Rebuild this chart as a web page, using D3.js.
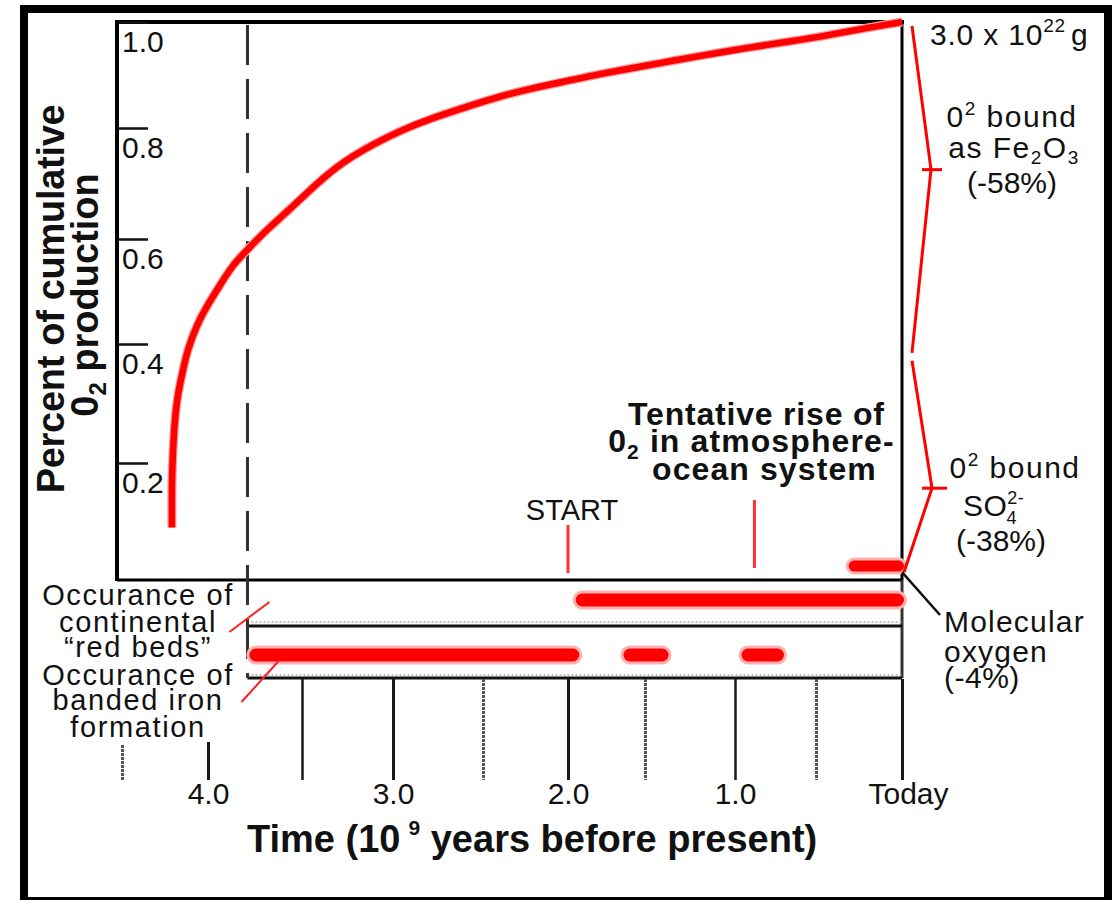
<!DOCTYPE html>
<html><head><meta charset="utf-8">
<script src="https://cdn.jsdelivr.net/npm/d3@7"></script>
<style>
html,body{margin:0;padding:0;background:#fff;}
svg{display:block;font-family:"Liberation Sans",Arial,Helvetica,sans-serif;}
</style></head><body>
<svg id="chart" width="1115" height="902"></svg>
<script>
// ---------------- data ----------------
const timeTicks = [4.5, 4.0, 3.5, 3.0, 2.5, 2.0, 1.5, 1.0, 0.5, 0.0];
const timeTickLabels = ["", "4.0", "", "3.0", "", "2.0", "", "1.0", "", "Today"];
const fracTicks = [0.2, 0.4, 0.6, 0.8, 1.0];
const fracTickLabels = ["0.2", "0.4", "0.6", "0.8", "1.0"];

// cumulative O2 production curve (time in 10^9 yr before present, fraction)
const curveTime = [4.21, 4.21, 4.21, 4.20, 4.18, 4.15, 4.12, 4.06, 4.01, 3.94, 3.87, 3.79, 3.69, 3.56, 3.40, 3.24, 2.96, 2.78, 2.59, 2.40, 2.21, 2.00, 1.79, 1.58, 1.38, 1.19, 1.01, 0.80, 0.60, 0.40, 0.20, 0.00];
const curveFrac = [0.085, 0.13, 0.17, 0.25, 0.31, 0.35, 0.39, 0.44, 0.47, 0.51, 0.55, 0.58, 0.616, 0.655, 0.706, 0.748, 0.796, 0.819, 0.840, 0.860, 0.875, 0.889, 0.902, 0.913, 0.925, 0.936, 0.947, 0.957, 0.966, 0.977, 0.989, 1.0];

// occurrence bands
const bandNames = ["red beds", "banded iron"];
const redBedsSpans = [[1.95, 0.0]];
const bifSpans = [[3.78, 1.94], [1.64, 1.38], [0.96, 0.71]];
const molecularOxygenSpan = [0.31, 0.0];
const molecularOxygenFrac = 0.016;

// events
const oldestRockAge = 3.79;
const startAge = 2.0;
const tentativeRiseAge = 0.88;

// partition braces (fraction values: top, apex, bottom)
const upperBrace = [1.0, 0.725, 0.385];
const lowerBrace = [0.372, 0.155, 0.005];

// ---------------- chart ----------------
const W = 1115, H = 902;
const svg = d3.select("#chart");
svg.append("rect").attr("width", W).attr("height", H).attr("fill", "#fff");

const x = d3.scaleLinear().domain(timeTicks).range([122, 208, 302, 393, 483, 568, 645, 735, 816, 902]);
const y = d3.scaleLinear().domain([0, 0.2, 0.4, 0.6, 0.8, 1.0]).range([575, 463, 344, 239, 128, 22]);
const band = d3.scalePoint().domain(bandNames).range([600, 655]);

const boxL = 117, boxT = y(1), boxR = x(0), boxB = 580;
const bandTop = 626, bandBot = 678;

// outer frame
const frame = svg.append("g").attr("fill", "#000");
frame.append("rect").attr("x", 20).attr("y", 5).attr("width", 1092).attr("height", 8);
frame.append("rect").attr("x", 20).attr("y", 5).attr("width", 8).attr("height", 895);
frame.append("rect").attr("x", 1104).attr("y", 5).attr("width", 8).attr("height", 895);
frame.append("rect").attr("x", 20).attr("y", 897).attr("width", 1092).attr("height", 3);

// main box
const g = svg.append("g");
g.append("line").attr("x1", boxL).attr("x2", boxL).attr("y1", boxT - 2).attr("y2", boxB + 1).attr("stroke", "#000").attr("stroke-width", 4);
g.append("line").attr("x1", boxL - 2).attr("x2", boxR + 2).attr("y1", boxT).attr("y2", boxT).attr("stroke", "#000").attr("stroke-width", 4);
g.append("line").attr("x1", boxL).attr("x2", boxR).attr("y1", boxB).attr("y2", boxB).attr("stroke", "#000").attr("stroke-width", 3);
g.append("line").attr("x1", boxR).attr("x2", boxR).attr("y1", boxT).attr("y2", boxB).attr("stroke", "#000").attr("stroke-width", 3);
g.append("line").attr("x1", boxR).attr("x2", boxR).attr("y1", boxB).attr("y2", bandBot).attr("stroke", "#333").attr("stroke-width", 3);

// band lines
const xBandL = x(oldestRockAge);
[[622, bandTop], [675, bandBot]].forEach(([dy, sy]) => {
  g.append("line").attr("x1", xBandL).attr("x2", boxR).attr("y1", dy).attr("y2", dy)
    .attr("stroke", "#b0b0b0").attr("stroke-width", 1.5).attr("stroke-dasharray", "2,2");
  g.append("line").attr("x1", xBandL).attr("x2", boxR).attr("y1", sy).attr("y2", sy)
    .attr("stroke", "#111").attr("stroke-width", 3);
});

// dashed line at oldest rocks
g.append("line").attr("x1", xBandL).attr("x2", xBandL).attr("y1", boxT + 3).attr("y2", bandBot)
  .attr("stroke", "#333").attr("stroke-width", 3).attr("stroke-dasharray", "40,14");

// y axis
const yAxis = d3.axisRight(y).tickValues(fracTicks).tickSize(30).tickFormat((d, i) => fracTickLabels[i]);
const gy = svg.append("g").attr("transform", `translate(${boxL + 1},0)`).call(yAxis);
gy.select(".domain").remove();
gy.selectAll(".tick line").attr("stroke", "#111").attr("stroke-width", 2.5);
gy.selectAll(".tick text").attr("x", 4).attr("y", 29).attr("dy", 0).attr("text-anchor", "start")
  .attr("font-size", 30).attr("font-family", "Liberation Sans, Arial, sans-serif").attr("fill", "#111");

// x axis
const isHalf = d => Math.round(d * 2) % 2 === 1 && d !== 3.5;
const xAxis = d3.axisBottom(x).tickValues(timeTicks).tickSize(101).tickPadding(3).tickFormat((d, i) => timeTickLabels[i]);
const gx = svg.append("g").attr("transform", `translate(0,${bandBot + 1})`).call(xAxis);
gx.select(".domain").remove();
gx.selectAll(".tick line")
  .attr("y1", d => d === 4.5 ? 66 : (d === 4.0 ? 63 : 0))
  .attr("stroke", d => isHalf(d) ? "#555" : "#1a1a1a")
  .attr("stroke-width", d => d === 3.5 || d === 1.0 ? 2.5 : 3)
  .attr("stroke-dasharray", d => isHalf(d) ? "3,1" : null);
gx.selectAll(".tick text").attr("font-size", 30).attr("font-family", "Liberation Sans, Arial, sans-serif")
  .attr("fill", "#111").attr("dx", d => d === 0 ? 6 : 0);

// curve
const pts = curveTime.map((t, i) => [t, curveFrac[i]]);
const line = d3.line().x(d => x(d[0])).y(d => y(d[1])).curve(d3.curveBasis);
svg.append("path").attr("d", line(pts)).attr("fill", "none").attr("stroke", "#ff9a9a").attr("stroke-width", 9);
svg.append("path").attr("d", line(pts)).attr("fill", "none").attr("stroke", "#ff0000").attr("stroke-width", 6.5);

// occurrence bars
function bar(t0, t1, yy, w) {
  const r = w / 2;
  const xa = x(t0) + r, xb = x(t1) - r + 2;
  svg.append("line").attr("x1", xa).attr("x2", xb).attr("y1", yy).attr("y2", yy)
    .attr("stroke", "#ffb0b0").attr("stroke-width", w + 6).attr("stroke-linecap", "round");
  svg.append("line").attr("x1", xa).attr("x2", xb).attr("y1", yy).attr("y2", yy)
    .attr("stroke", "#ff0000").attr("stroke-width", w).attr("stroke-linecap", "round");
}
redBedsSpans.forEach(s => bar(s[0], s[1], band("red beds"), 13));
bifSpans.forEach(s => bar(s[0], s[1], band("banded iron"), 13));
bar(molecularOxygenSpan[0], molecularOxygenSpan[1], y(molecularOxygenFrac), 11);

// event ticks
svg.append("line").attr("x1", x(startAge)).attr("x2", x(startAge)).attr("y1", boxB - 55).attr("y2", boxB - 7)
  .attr("stroke", "#ff3030").attr("stroke-width", 3);
svg.append("line").attr("x1", x(tentativeRiseAge)).attr("x2", x(tentativeRiseAge)).attr("y1", boxB - 80).attr("y2", boxB - 12)
  .attr("stroke", "#ff3030").attr("stroke-width", 3);

// braces
const brace = d3.line();
const bx = x(0);
svg.append("path").attr("d", brace([[bx + 10, y(upperBrace[0]) + 4], [bx + 29, y(upperBrace[1])], [bx + 10, y(upperBrace[2])]]))
  .attr("fill", "none").attr("stroke", "#ff0000").attr("stroke-width", 3);
svg.append("line").attr("x1", bx + 20).attr("x2", bx + 40).attr("y1", y(upperBrace[1])).attr("y2", y(upperBrace[1]))
  .attr("stroke", "#ff0000").attr("stroke-width", 3);
svg.append("path").attr("d", brace([[bx + 10, y(lowerBrace[0])], [bx + 30, y(lowerBrace[1])], [bx + 2, y(lowerBrace[2])]]))
  .attr("fill", "none").attr("stroke", "#ff0000").attr("stroke-width", 3);
svg.append("line").attr("x1", bx + 20).attr("x2", bx + 45).attr("y1", y(lowerBrace[1])).attr("y2", y(lowerBrace[1]))
  .attr("stroke", "#ff0000").attr("stroke-width", 3);
// leader to molecular oxygen
svg.append("line").attr("x1", bx).attr("y1", y(lowerBrace[2])).attr("x2", bx + 38).attr("y2", 615)
  .attr("stroke", "#111").attr("stroke-width", 2.5);

// left red leaders
svg.append("line").attr("x1", xBandL - 18).attr("y1", 632).attr("x2", xBandL + 22).attr("y2", 602)
  .attr("stroke", "#ff2020").attr("stroke-width", 2);
svg.append("line").attr("x1", xBandL - 6).attr("y1", 702).attr("x2", xBandL + 32).attr("y2", 660)
  .attr("stroke", "#ff2020").attr("stroke-width", 2);

// ---------------- text ----------------
const T = svg.append("g").attr("fill", "#111");
function txt(xx, yy, s, opts = {}) {
  const t = T.append("text").attr("x", xx).attr("y", yy).attr("font-size", opts.size || 30)
    .attr("text-anchor", opts.anchor || "start").attr("font-weight", opts.weight || "normal")
    .attr("letter-spacing", opts.ls || 0);
  if (s) t.text(s);
  return t;
}

// y title
T.append("text").attr("transform", "translate(64,299) rotate(-90)").attr("text-anchor", "middle")
  .attr("font-weight", "bold").attr("font-size", 38).attr("letter-spacing", -0.3).text("Percent of cumulative");
const yt2 = T.append("text").attr("transform", "translate(98,295) rotate(-90)").attr("text-anchor", "middle")
  .attr("font-weight", "bold").attr("font-size", 38);
yt2.append("tspan").text("0");
yt2.append("tspan").attr("font-size", 24).attr("dy", 8).text("2");
yt2.append("tspan").attr("dy", -8).text(" production");

// x title
const xt = txt(247, 852, null, { size: 38, weight: "bold" });
xt.append("tspan").text("Time (10");
xt.append("tspan").attr("font-size", 21).attr("dx", 8).attr("dy", -17).text("9");
xt.append("tspan").attr("dy", 17).text(" years before present)");

// left band labels
const leftLines = [["Occurance of", 605], ["continental", 632], ["\u201Cred beds\u201D", 657],
                   ["Occurance of", 685], ["banded iron", 710], ["formation", 737]];
leftLines.forEach(([s, yy]) => txt(138, yy, s, { size: 29, anchor: "middle", ls: 1.6 }));

// START
txt(x(startAge) + 4, 520, "START", { size: 29, anchor: "middle" });

// tentative rise
const tx = x(tentativeRiseAge) + 2;
txt(tx, 425, "Tentative rise of", { size: 32, weight: "bold", anchor: "middle", ls: 0.8 });
const tl2 = txt(tx - 5, 452, null, { size: 32, weight: "bold", anchor: "middle", ls: 1.1 });
tl2.append("tspan").text("0");
tl2.append("tspan").attr("font-size", 21).attr("dy", 7).text("2");
tl2.append("tspan").attr("dy", -7).text(" in atmosphere-");
txt(tx + 8, 480, "ocean system", { size: 32, weight: "bold", anchor: "middle", ls: 1.1 });

// total mass
const mt = txt(930, 45, null, { ls: 0.8 });
mt.append("tspan").text("3.0 x 10");
mt.append("tspan").attr("font-size", 19).attr("dy", -13).text("22");
mt.append("tspan").attr("dy", 13).attr("dx", 5).text("g");

// upper partition labels
const u1 = txt(1012, 127, null, { anchor: "middle", ls: 1.5 });
u1.append("tspan").text("0");
u1.append("tspan").attr("font-size", 19).attr("dy", -12).text("2");
u1.append("tspan").attr("dy", 12).text(" bound");
const u2 = txt(1014, 158, null, { anchor: "middle", ls: 1.5 });
u2.append("tspan").text("as Fe");
u2.append("tspan").attr("font-size", 19).attr("dy", 6).text("2");
u2.append("tspan").attr("dy", -6).text("O");
u2.append("tspan").attr("font-size", 19).attr("dy", 6).text("3");
txt(1012, 193, "(-58%)", { anchor: "middle" });

// lower partition labels
const l1 = txt(1015, 478, null, { anchor: "middle", ls: 1.5 });
l1.append("tspan").text("0");
l1.append("tspan").attr("font-size", 19).attr("dy", -12).text("2");
l1.append("tspan").attr("dy", 12).text(" bound");
const l2 = txt(963, 516, null, { ls: 0.5 });
l2.append("tspan").text("SO");
l2.append("tspan").attr("font-size", 18).attr("dy", -12).text("2-");
l2.append("tspan").attr("font-size", 18).attr("dx", -18).attr("dy", 20).text("4");
txt(1001, 551, "(-38%)", { anchor: "middle" });

// molecular oxygen labels
txt(944, 632, "Molecular", { ls: 1.2 });
txt(944, 662, "oxygen", { ls: 1.2 });
txt(944, 688, "(-4%)", { ls: 0.5 });
</script>
</body></html>
